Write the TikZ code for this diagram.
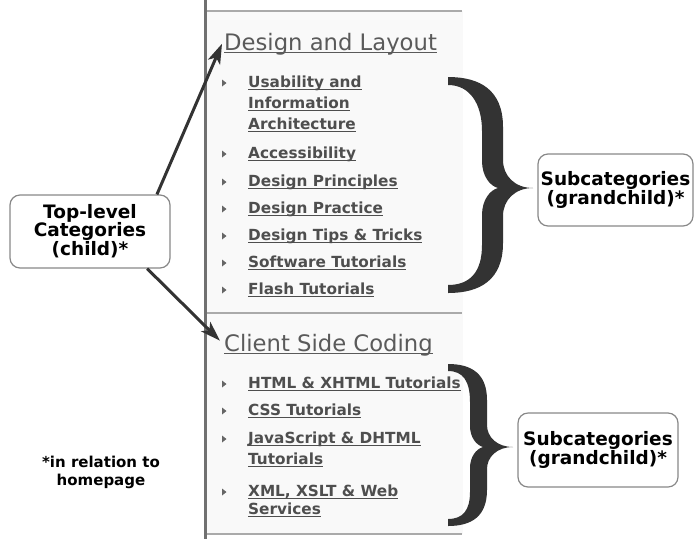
\documentclass[tikz,border=0pt]{standalone}
\usepackage{fontspec}
\setmainfont{DejaVu Sans}
\usetikzlibrary{arrows.meta}
\definecolor{hd}{HTML}{5A5A5A}
\definecolor{itc}{HTML}{4E4E4E}
\definecolor{dk}{HTML}{333333}
\definecolor{bx}{HTML}{888888}
\definecolor{pn}{HTML}{F9F9F9}
\definecolor{ln}{HTML}{AAAAAA}
\definecolor{vl}{HTML}{707070}
\definecolor{bul}{HTML}{666666}
\newsavebox\ulbox
\newcommand\myul[3]{\sbox\ulbox{#3}\rlap{\rule[-#1]{\wd\ulbox}{#2}}\usebox\ulbox}
\newcommand\hd[1]{\myul{3pt}{1.5pt}{#1}}
\newcommand\itm[1]{\myul{2.8pt}{1.3pt}{#1}}
\tikzset{
  heading/.style={anchor=base west, inner sep=0pt, text=hd, font=\fontsize{22.7}{22.7}\selectfont},
  itemtext/.style={anchor=base west, inner sep=0pt, text=itc, font=\bfseries\fontsize{15.3}{15.3}\selectfont},
  bulletmark/.style={fill=bul},
  callout/.style={draw=bx, line width=1.2pt, rounded corners=10pt, fill=white, align=center, inner sep=0pt, font=\bfseries\fontsize{18.5}{18}\selectfont},
  arr/.style={draw=dk, line width=3pt, -{Stealth[length=20pt,width=13pt,inset=5pt]}},
  bracefill/.style={fill=dk},
  rulegray/.style={draw=ln, line width=1.5pt},
}
\newcommand\bul[1]{\fill[bulletmark] (222,#1-7.5) -- (226.5,#1-4) -- (222,#1-0.5) -- cycle;}
\begin{document}
\begin{tikzpicture}[x=1pt,y=-1pt]
\useasboundingbox (0,0) rectangle (695,539);
% panel
\fill[pn] (206.5,11) rectangle (463,534);
\draw[rulegray] (206.5,11) -- (462,11);
\draw[rulegray] (206.5,313) -- (462,313);
\draw[rulegray] (206.5,534) -- (462,534);
\draw[draw=vl, line width=3pt] (205,0) -- (205,539);

% headings
\node[heading] (dl) at (224,50) {\hd{Design and Layout}};
\node[heading] (cc) at (224,351) {\hd{Client Side Coding}};

% design items
\node[itemtext] (u1) at (248,87) {\itm{Usability and}};
\node[itemtext] (u2) at (248,108) {\itm{Information}};
\node[itemtext] (u3) at (248,129) {\itm{Architecture}};
\node[itemtext] (acc) at (248,158) {\itm{Accessibility}};
\node[itemtext] (dpr) at (248,186) {\itm{Design Principles}};
\node[itemtext] (dpa) at (248,213) {\itm{Design Practice}};
\node[itemtext] (dtt) at (248,240) {\itm{Design Tips \& Tricks}};
\node[itemtext] (swt) at (248,267) {\itm{Software Tutorials}};
\node[itemtext] (fla) at (248,294) {\itm{Flash Tutorials}};
\bul{87}\bul{158}\bul{186}\bul{213}\bul{240}\bul{267}\bul{294}

% client items
\node[itemtext] (htm) at (248,388) {\itm{HTML \& XHTML Tutorials}};
\node[itemtext] (css) at (248,415) {\itm{CSS Tutorials}};
\node[itemtext] (js1) at (248,443) {\itm{JavaScript \& DHTML}};
\node[itemtext] (js2) at (248,464) {\itm{Tutorials}};
\node[itemtext] (xm1) at (248,496) {\itm{XML, XSLT \& Web}};
\node[itemtext] (xm2) at (248,514) {\itm{Services}};
\bul{388}\bul{415}\bul{443}\bul{496}

% braces
\path[bracefill] (448,77) .. controls (480,77) and (503,90) .. (503,127)
  -- (503,160)
  .. controls (503,176) and (515,188) .. (533,188)
  .. controls (515,188) and (503,200) .. (503,216)
  -- (503,243)
  .. controls (503,280) and (480,293) .. (448,293)
  -- (448,285)
  .. controls (470,285) and (482,272) .. (482,245)
  -- (482,215)
  .. controls (482,200) and (490,190) .. (498,188)
  .. controls (490,186) and (482,176) .. (482,161)
  -- (482,131)
  .. controls (482,104) and (470,85) .. (448,85)
  -- cycle;
\path[bracefill] (448,364) .. controls (472,364) and (487,374) .. (487,400)
  -- (487,425)
  .. controls (487,437) and (497,447) .. (513,447)
  .. controls (497,447) and (487,457) .. (487,469)
  -- (487,490)
  .. controls (487,516) and (472,526) .. (448,526)
  -- (448,519)
  .. controls (463,519) and (470,510) .. (470,492)
  -- (470,468)
  .. controls (470,457) and (476,449) .. (483,447)
  .. controls (476,445) and (470,437) .. (470,426)
  -- (470,402)
  .. controls (470,381) and (463,371) .. (448,371)
  -- cycle;

% callouts
\node[callout, minimum width=160pt, minimum height=73pt] (tl) at (90,231.5) {Top-level\\Categories\\(child)*};
\node[callout, minimum width=155pt, minimum height=72pt] (sc1) at (615.5,190) {Subcategories\\(grandchild)*};
\node[callout, minimum width=160pt, minimum height=74pt] (sc2) at (598,450) {Subcategories\\(grandchild)*};

% footnote
\node[align=center, inner sep=0pt, font=\bfseries\fontsize{15}{18}\selectfont] (fn) at (101,472) {*in relation to\\homepage};

% arrows
\draw[arr] (tl.29.7) -- ([xshift=-2pt]dl.west);
\draw[arr] (tl.-33.6) -- ([xshift=-4pt,yshift=4pt]cc.west);
\end{tikzpicture}
\end{document}
